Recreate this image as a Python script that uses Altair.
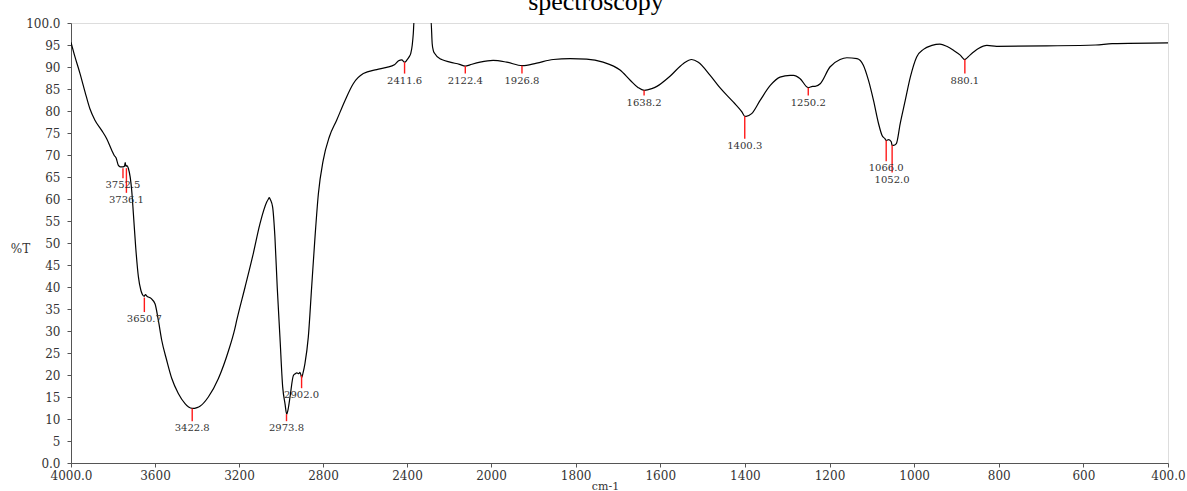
import altair as alt
import pandas as pd

# FTIR transmittance spectrum, wavenumber (cm-1) vs %T
# (the CO2 band near 2350 cm-1 runs off the top of the 0-100 %T window)
wavenumber = [
    4000, 3981, 3957, 3933, 3910, 3886, 3854, 3830, 3806, 3794, 3785, 3775,
    3765, 3752, 3745, 3742, 3738, 3734, 3727, 3711, 3703, 3692, 3679, 3667,
    3660, 3652, 3645, 3640, 3619, 3600, 3584, 3568, 3544, 3520, 3489, 3457,
    3440, 3422, 3400, 3386, 3346, 3298, 3250, 3220, 3211, 3171, 3132, 3100,
    3068, 3060, 3056, 3050, 3040, 3029, 3018, 3005, 2992, 2981, 2973, 2965,
    2957, 2941, 2932, 2925, 2915, 2910, 2905, 2902, 2895, 2886, 2870, 2854,
    2838, 2822, 2799, 2770, 2735, 2695, 2656, 2608, 2544, 2497, 2460, 2440,
    2425, 2411, 2400, 2390, 2382, 2375, 2370, 2366, 2286, 2280,
    2275, 2267, 2243, 2235, 2195, 2150, 2122, 2100, 2052, 1995, 1963, 1926,
    1892, 1853, 1813, 1774, 1735, 1695, 1671, 1652, 1638, 1620, 1608, 1577,
    1545, 1526, 1510, 1482, 1459, 1427, 1407, 1400, 1397, 1384, 1364, 1340,
    1317, 1293, 1285, 1270, 1250, 1240, 1234, 1222, 1199, 1175, 1159, 1135,
    1120, 1108, 1096, 1084, 1076, 1069, 1066, 1060, 1054, 1052, 1049, 1042,
    1033, 1021, 1009, 994, 978, 958, 939, 923, 907, 891, 880, 878, 868, 848,
    828, 805, 687, 571, 532, 400,
]
transmittance = [
    95.6, 92.3, 88.5, 84.3, 80.5, 77.9, 75.6, 73.7, 71.1, 69.9, 69.3, 67.7,
    67.3, 67.3, 67.5, 68.3, 67.4, 67.6, 67.0, 62.0, 56.7, 49.1, 42.3, 39.2,
    38.3, 37.9, 38.3, 38.0, 37.4, 36.2, 32.4, 27.9, 23.3, 19.2, 15.8, 13.5,
    12.7, 12.4, 12.6, 12.9, 15.0, 19.2, 25.5, 30.5, 32.4, 40.0, 47.6, 54.4,
    59.3, 60.0, 60.3, 59.8, 58.2, 51.4, 40.0, 28.6, 17.3, 13.5, 11.1, 12.5,
    15.0, 19.9, 20.3, 20.5, 20.3, 20.6, 20.0, 19.4, 20.5, 22.6, 28.6, 40.0,
    51.4, 61.2, 68.8, 74.1, 77.9, 82.4, 86.2, 88.5, 89.4, 89.9, 90.5, 91.4,
    91.6, 91.1, 91.6, 92.3, 93.1, 95.0, 97.6, 100.7, 100.7, 95.3,
    93.8, 93.0, 91.9, 91.7, 91.1, 90.6, 90.2, 90.5, 91.1, 91.5, 91.1, 90.3,
    90.9, 91.7, 91.9, 91.8, 91.1, 89.3, 87.0, 85.3, 84.7, 85.1, 85.6, 87.9,
    90.8, 91.7, 91.1, 88.1, 85.3, 82.0, 79.8, 78.8, 78.8, 79.4, 82.4, 85.8,
    87.7, 88.1, 88.1, 87.4, 85.3, 85.6, 85.6, 86.2, 90.0, 91.7, 92.1, 91.9,
    90.4, 87.0, 82.4, 77.1, 74.5, 73.7, 73.3, 73.5, 73.0, 72.2, 72.2, 72.6,
    77.1, 82.4, 87.7, 92.3, 94.0, 94.9, 95.2, 94.7, 93.8, 92.7, 91.7, 91.8,
    92.7, 94.2, 94.9, 94.7, 94.8, 95.0, 95.3, 95.5,
]

# picked peaks: position, %T at the band minimum, and where the marker ends
peak_wavenumber = [3752.5, 3736.1, 3650.7, 3422.8, 2973.8, 2902.0, 2411.6,
                   2122.4, 1926.8, 1638.2, 1400.3, 1250.2, 1066.0, 1052.0, 880.1]
peak_transmittance = [67.0, 67.0, 37.6, 12.4, 11.1, 19.9, 91.1,
                      90.2, 90.3, 84.7, 78.8, 85.3, 73.3, 72.2, 91.7]
peak_marker_end = [64.7, 61.4, 34.3, 9.5, 9.5, 17.0, 88.5,
                   88.5, 88.5, 83.5, 73.7, 83.5, 68.6, 66.0, 88.5]

chart_title = ["spectroscopy"]

x_ticks = [4000, 3600, 3200, 2800, 2400, 2000, 1800, 1600, 1400, 1200, 1000, 800, 600, 400]
y_ticks = list(range(0, 101, 5))

spectrum = pd.DataFrame({"wn": wavenumber, "T": transmittance})
peaks = pd.DataFrame({"wn": peak_wavenumber, "T": peak_transmittance, "T_end": peak_marker_end})
peaks["label"] = peaks["wn"].map(lambda v: f"{v:.1f}")
heading = pd.DataFrame({"text": chart_title})

SERIF = "DejaVu Serif"
TEXT = "#333333"
AXIS = "#555555"

# the x scale changes compression at 2000 cm-1
x_scale = alt.Scale(domain=[4000, 2000, 400], range=[0, 420, 1097], nice=False, zero=False)
y_scale = alt.Scale(domain=[0, 100], nice=False, zero=False)

x_axis = alt.Axis(
    values=x_ticks, tickCount=len(x_ticks),
    labelExpr="datum.value == 4000 ? '4000.0' : datum.value == 400 ? '400.0' : '' + datum.value",
    title="cm-1", grid=False, tickSize=4, labelPadding=3, labelFlush=False, labelOverlap=False,
    labelFont=SERIF, labelFontSize=12, labelColor=TEXT, domainColor=AXIS, tickColor=AXIS,
    titleFont=SERIF, titleFontSize=11, titleFontWeight="normal", titleColor=TEXT,
    titleX=534, titleY=23, titleAlign="center", titleBaseline="middle",
)
y_axis = alt.Axis(
    values=y_ticks, tickCount=len(y_ticks),
    labelExpr="datum.value == 0 ? '0.0' : datum.value == 100 ? '100.0' : '' + datum.value",
    title="%T", grid=False, tickSize=4, labelPadding=7, labelOverlap=False,
    labelFont=SERIF, labelFontSize=12, labelColor=TEXT, domainColor=AXIS, tickColor=AXIS,
    titleFont=SERIF, titleFontSize=12, titleFontWeight="normal", titleColor=TEXT,
    titleAngle=0, titleX=-51, titleY=225, titleAlign="center", titleBaseline="middle",
)

line = alt.Chart(spectrum).mark_line(
    color="black", strokeWidth=1.2, clip=True, interpolate="monotone"
).encode(
    x=alt.X("wn:Q", scale=x_scale, axis=x_axis),
    y=alt.Y("T:Q", scale=y_scale, axis=y_axis),
    order=alt.Order("wn:Q", sort="descending"),
)

markers = alt.Chart(peaks).mark_rule(color="#ff1a1a", strokeWidth=1.4).encode(
    x=alt.X("wn:Q", scale=x_scale),
    y=alt.Y("T:Q", scale=y_scale),
    y2="T_end:Q",
)

labels = alt.Chart(peaks).mark_text(
    font=SERIF, fontSize=10, color=TEXT, baseline="middle", align="center", dy=7
).encode(
    x=alt.X("wn:Q", scale=x_scale),
    y=alt.Y("T_end:Q", scale=y_scale),
    text="label:N",
)

# heading sits just above the frame; its upper part runs past the page top
title_text = alt.Chart(heading).mark_text(
    font="Liberation Serif", fontSize=26, color="black", align="center", baseline="alphabetic"
).encode(
    x=alt.value(525),
    y=alt.value(-13),
    text="text:N",
)

chart = alt.layer(line, markers, labels, title_text).properties(
    width=1097,
    height=440,
    padding={"left": 71, "top": 23, "right": 19, "bottom": 28},
    autosize=alt.AutoSizeParams(type="none"),
).configure_view(stroke=None).configure(background="white")

chart.save("out.html", embed_options={"renderer": "svg", "actions": False})
